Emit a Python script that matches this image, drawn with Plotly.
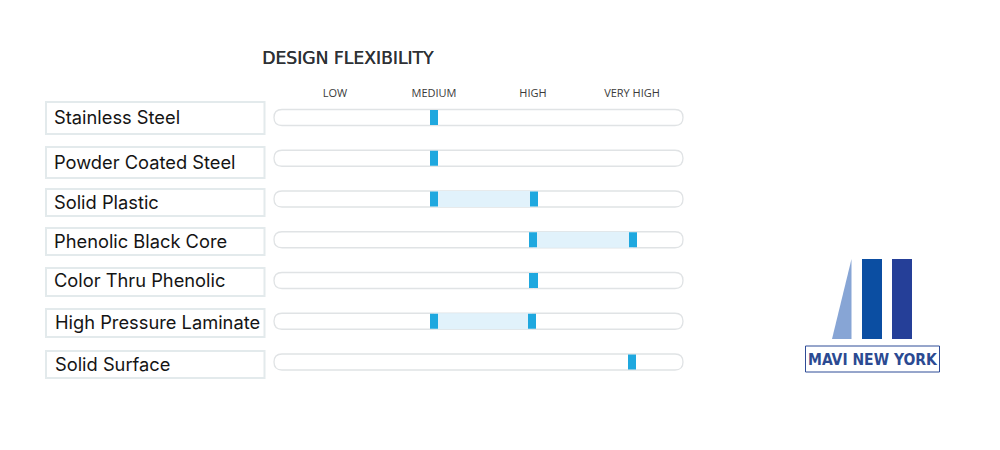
import plotly.graph_objects as go

title = "DESIGN FLEXIBILITY"
materials = ["Stainless Steel", "Powder Coated Steel", "Solid Plastic", "Phenolic Black Core",
             "Color Thru Phenolic", "High Pressure Laminate", "Solid Surface"]
level_values = [1, 2, 3, 4]
level_names = ["LOW", "MEDIUM", "HIGH", "VERY HIGH"]
range_low = [2.0, 2.0, 2.0, 3.0, 3.0, 2.0, 4.0]
range_high = [2.0, 2.0, 3.01, 4.01, 3.01, 2.99, 4.0]
logo_text = "MAVI NEW YORK"

W, H = 1000, 450
T, B = 100, 50
PH = H - T - B
X_LOW_PX, X_UNIT = 335.0, 99.0
Y_FIRST_PX, Y_UNIT = 117.5, 40.75


def px(v):
    return v / W


def py(v):
    return 1 - (v - T) / PH


shapes = []
annotations = []

# label boxes: (top, bottom, text x, text y)
label_boxes = [(102, 134, 52, 116.5), (147, 178, 52, 162), (189, 216, 52, 202), (228, 255, 52, 241),
               (268, 296, 52, 280), (309, 337, 53, 321.5), (351, 378, 53, 364)]
for name, (top, bot, tx, ty) in zip(materials, label_boxes):
    shapes.append(dict(type="rect", xref="paper", yref="paper", x0=px(46), x1=px(264.5),
                       y0=py(bot), y1=py(top), line=dict(color="#e3eaec", width=2),
                       fillcolor="white", layer="below"))
    annotations.append(dict(text=name, xref="paper", yref="paper", x=px(tx), y=py(ty),
                            xanchor="left", yanchor="middle", showarrow=False,
                            font=dict(family="Inter", size=18.3, color="#141414")))

# rounded tracks behind each row
for i in range(len(materials)):
    c = Y_FIRST_PX + Y_UNIT * i
    t, b = py(c - 8), py(c + 8)
    l, r = 274, 683
    path = (f"M {px(l + 8)} {t} L {px(r - 8)} {t} Q {px(r)} {t} {px(r)} {py(c)} Q {px(r)} {b} {px(r - 8)} {b} "
            f"L {px(l + 8)} {b} Q {px(l)} {b} {px(l)} {py(c)} Q {px(l)} {t} {px(l + 8)} {t} Z")
    shapes.append(dict(type="path", xref="paper", yref="paper", path=path,
                       line=dict(color="#e0e3e5", width=1.3), fillcolor="white", layer="below"))

# logo
def logo_poly(points, color):
    d = "M " + " L ".join(f"{px(x)} {py(y)}" for x, y in points) + " Z"
    shapes.append(dict(type="path", xref="paper", yref="paper", path=d, fillcolor=color, line=dict(width=0)))

logo_poly([(851.5, 259), (851.5, 339), (832, 339)], "#87a5d5")
logo_poly([(862, 259), (882, 259), (882, 339), (862, 339)], "#0b4ea2")
logo_poly([(892, 259), (912, 259), (912, 339), (892, 339)], "#253f98")
shapes.append(dict(type="rect", xref="paper", yref="paper", x0=px(805.5), x1=px(939.5), y0=py(372), y1=py(346),
                   line=dict(color="#2f4c97", width=1), fillcolor="white"))
annotations.append(dict(text=logo_text, xref="paper", yref="paper", x=px(872.5), y=py(359.5),
                        xanchor="center", yanchor="middle", showarrow=False,
                        font=dict(family="DejaVu Sans Condensed", size=15.5, color="#2b4a92", weight=700)))

annotations.append(dict(text=title, xref="paper", yref="paper", x=px(260), y=py(58.5),
                        xanchor="left", yanchor="middle", showarrow=False,
                        font=dict(family="DejaVu Sans", size=17.2, color="#2e3135",
                                  shadow="0.4px 0 0 #2e3135")))

fig = go.Figure()
rows = list(range(len(materials)))

# light range fill
fig.add_trace(go.Bar(
    y=rows, x=[h - l for l, h in zip(range_low, range_high)], base=range_low, orientation="h",
    width=16 / Y_UNIT, marker=dict(color="#e1f2fb", line=dict(width=0)), hoverinfo="skip", showlegend=False))

# end markers
ends_x, ends_y = [], []
for i, (l, h) in enumerate(zip(range_low, range_high)):
    ends_x.append(l)
    ends_y.append(i)
    if h != l:
        ends_x.append(h)
        ends_y.append(i)
fig.add_trace(go.Scatter(
    x=ends_x, y=ends_y, mode="markers", showlegend=False,
    marker=dict(symbol="line-ns-open", size=10.7, color="#1fa8df", line=dict(color="#1fa8df", width=8))))

fig.update_layout(
    width=W, height=H, autosize=False, paper_bgcolor="white", plot_bgcolor="rgba(0,0,0,0)",
    margin=dict(l=0, r=0, t=T, b=B, pad=0), shapes=shapes, annotations=annotations, showlegend=False,
    xaxis=dict(range=[1 - X_LOW_PX / X_UNIT, 1 + (W - X_LOW_PX) / X_UNIT], side="top", tickmode="array",
               tickvals=level_values, ticktext=level_names, ticks="", ticklen=0, showgrid=False, zeroline=False,
               showline=False, tickfont=dict(family="Open Sans", size=11, color="#3a3a3a")),
    yaxis=dict(range=[(T + PH - Y_FIRST_PX) / Y_UNIT, (T - Y_FIRST_PX) / Y_UNIT], showgrid=False, zeroline=False,
               showline=False, showticklabels=False, ticks=""),
)
fig.write_html("out.html", post_script="document.body.style.margin='0';",
               config=dict(displayModeBar=False))
